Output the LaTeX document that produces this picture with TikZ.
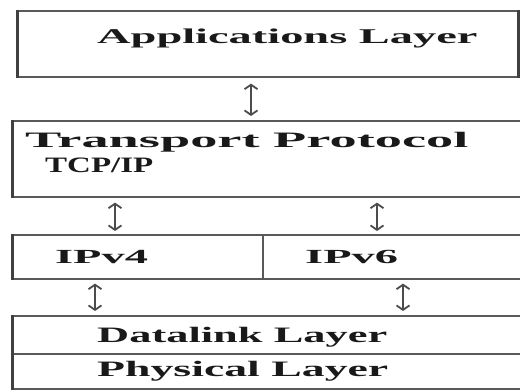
\documentclass[tikz,border=0pt]{standalone}
\usepackage{fontspec}
\setmainfont{Liberation Serif}
\usetikzlibrary{arrows.meta}
\newcommand{\wtext}[3]{\scalebox{#1}[1]{\fontsize{#2}{#2}\selectfont\bfseries #3}}
\begin{document}
\begin{tikzpicture}[x=1pt,y=-1pt,
  layerbox/.style={draw=black!65, line width=1.6pt, inner sep=0pt},
  lefted/.style={draw=black!75, line width=3pt},
  arr/.style={draw=black!70, line width=1.8pt, {Straight Barb[length=4.5pt,width=13pt]}-{Straight Barb[length=4.5pt,width=13pt]}},
  lbl/.style={anchor=base west, inner sep=0pt, text=black!90}]
\useasboundingbox (0,0) rectangle (520,390);
\fill[white] (0,0) rectangle (520,390);
\clip (0,0) rectangle (520,390);
% boxes
\node[layerbox, minimum width=500pt, minimum height=66pt, anchor=north west] (app) at (17,10) {};
\node[layerbox, minimum width=520pt, minimum height=76pt, anchor=north west] (trans) at (12,120) {};
\node[layerbox, minimum width=250pt, minimum height=44pt, anchor=north west] (ipv4) at (12,234) {};
\node[layerbox, minimum width=270pt, minimum height=44pt, anchor=north west] (ipv6) at (262,234) {};
\node[layerbox, minimum width=520pt, minimum height=38pt, anchor=north west] (dl) at (12,315) {};
\node[layerbox, minimum width=520pt, minimum height=35pt, anchor=north west] (ph) at (12,353) {};
% thick left / right edges
\draw[lefted] (app.north west) -- (app.south west);
\draw[lefted] (app.north east) -- (app.south east);
\draw[lefted] (trans.north west) -- (trans.south west);
\draw[lefted] (ipv4.north west) -- (ipv4.south west);
\draw[lefted] (dl.north west) -- (ph.south west);
% texts
\node[lbl] (tapp) at (97,44) {\wtext{2.21}{21}{Applications Layer}};
\node[lbl] (ttr) at (25,148) {\wtext{2.47}{22}{Transport Protocol}};
\node[lbl] (ttcp) at (45,173) {\wtext{1.50}{22}{TCP/IP}};
\node[lbl] (tv4) at (55,264) {\wtext{2.32}{20}{IPv4}};
\node[lbl] (tv6) at (305,264) {\wtext{2.32}{20}{IPv6}};
\node[lbl] (tdl) at (97,343) {\wtext{2.02}{22}{Datalink Layer}};
\node[lbl] (tph) at (97,377) {\wtext{2.08}{22}{Physical Layer}};
% arrow columns
\coordinate (c1) at (251,0);
\coordinate (c2) at (115,0);
\coordinate (c3) at (377,0);
\coordinate (c4) at (95,0);
\coordinate (c5) at (403,0);
\draw[arr, shorten <=6pt, shorten >=4pt] (app.south -| c1) -- (trans.north -| c1);
\draw[arr, shorten <=5pt, shorten >=3pt] (trans.south -| c2) -- (ipv4.north -| c2);
\draw[arr, shorten <=5pt, shorten >=3pt] (trans.south -| c3) -- (ipv6.north -| c3);
\draw[arr, shorten <=4pt, shorten >=4pt] (ipv4.south -| c4) -- (dl.north -| c4);
\draw[arr, shorten <=4pt, shorten >=4pt] (ipv6.south -| c5) -- (dl.north -| c5);
\end{tikzpicture}
\end{document}
